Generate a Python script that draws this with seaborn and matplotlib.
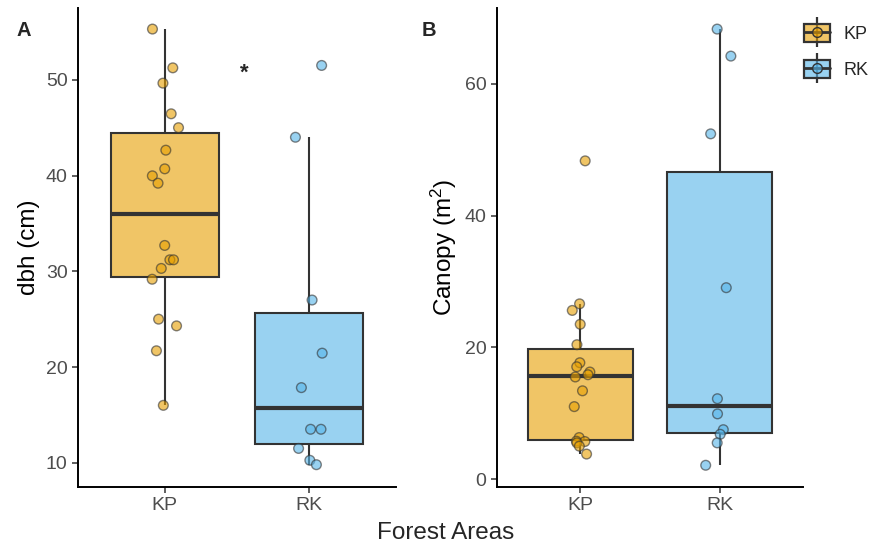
import numpy as np
import pandas as pd
import seaborn as sns
import matplotlib.pyplot as plt
from matplotlib.patches import Patch
from matplotlib.lines import Line2D
from matplotlib.legend_handler import HandlerTuple
from matplotlib.colors import to_rgba

# Data
areas = ["KP", "RK"]
dbh_kp = [55.3, 51.25, 49.65, 46.45, 45.0, 42.65, 40.7, 39.97, 39.2, 32.7,
          31.2, 31.2, 30.3, 29.17, 25.0, 24.3, 21.7, 16.0]
dbh_rk = [51.5, 44.0, 27.0, 21.45, 17.85, 13.5, 13.5, 11.5, 10.26, 9.8]
canopy_kp = [48.3, 26.6, 25.6, 23.5, 20.4, 17.66, 17.05, 16.25, 15.84, 15.5,
             13.4, 11.0, 6.3, 5.75, 5.7, 5.5, 5.0, 3.8]
canopy_rk = [68.3, 64.2, 52.4, 29.05, 12.2, 9.9, 7.5, 6.8, 5.5, 2.1]

palette = {"KP": "#E69F00", "RK": "#56B4E9"}

df_dbh = pd.DataFrame({"area": ["KP"] * len(dbh_kp) + ["RK"] * len(dbh_rk),
                       "value": dbh_kp + dbh_rk})
df_can = pd.DataFrame({"area": ["KP"] * len(canopy_kp) + ["RK"] * len(canopy_rk),
                       "value": canopy_kp + canopy_rk})

sns.set_style("ticks")
plt.rcParams['font.family'] = ['Liberation Sans', 'DejaVu Sans']
plt.rcParams['mathtext.default'] = 'regular'
np.random.seed(7)

fig = plt.figure(figsize=(8.7, 5.48), dpi=100)
ax1 = fig.add_axes([0.0897, 0.1113, 0.3653, 0.8741])
ax2 = fig.add_axes([0.5713, 0.1113, 0.3517, 0.8741])


def panel(ax, df, ylabel, ylim, yticks):
    sns.boxplot(data=df, x="area", y="value", hue="area", palette=palette,
                order=areas, saturation=1, width=0.75, showfliers=False,
                showcaps=False, linecolor="#333333", linewidth=1.5,
                medianprops={"linewidth": 3}, legend=False, ax=ax)
    for p in ax.patches:
        p.set_facecolor(to_rgba(p.get_facecolor(), 0.6))
    sns.stripplot(data=df, x="area", y="value", hue="area", palette=palette,
                  order=areas, jitter=0.1, size=7, alpha=0.6,
                  edgecolor="#333333", linewidth=1.0, legend=False, ax=ax, zorder=5)
    ax.set_xlim(-0.6, 1.6)
    ax.set_ylim(*ylim)
    ax.set_yticks(yticks)
    ax.set_xlabel("")
    ax.set_ylabel(ylabel, fontsize=17.5, color="black")
    sns.despine(ax=ax)
    for s in ["left", "bottom"]:
        ax.spines[s].set_linewidth(1.4)
        ax.spines[s].set_color("black")
    ax.tick_params(axis="both", labelsize=14, labelcolor="#4D4D4D",
                   color="#333333", length=4, width=1.1)


panel(ax1, df_dbh, "dbh (cm)", (7.47, 57.5), [10, 20, 30, 40, 50])
panel(ax2, df_can, "Canopy (m$^{2}$)", (-1.2, 71.5), [0, 20, 40, 60])

ax1.text(0.55, 50.7, "*", fontsize=16, fontweight="bold", ha="center", va="center")
fig.text(17 / 870, 1 - 30 / 548, "A", fontsize=14.5, fontweight="bold", va="center")
fig.text(422 / 870, 1 - 30 / 548, "B", fontsize=14.5, fontweight="bold", va="center")
fig.text(446 / 870, 1 - 533 / 548, "Forest Areas", fontsize=17.5, ha="center", va="center")

handles = []
for a in areas:
    box = Patch(facecolor=to_rgba(palette[a], 0.6), edgecolor="#333333", linewidth=1.6)
    whisk = Line2D([0], [0], color="#333333", marker="|", markersize=21,
                   markeredgewidth=1.6, linestyle="None")
    mid = Line2D([0], [0], color="#333333", linewidth=2, marker="o", markersize=7,
                 markerfacecolor=to_rgba(palette[a], 0.6), markeredgecolor="#333333")
    handles.append((whisk, box, mid))

fig.legend(handles, areas, handler_map={tuple: HandlerTuple(ndivide=1, pad=0)},
           loc="upper left", bbox_to_anchor=(788 / 870, 1 - 8 / 548),
           frameon=False, fontsize=13, handlelength=1.45, handleheight=1.1,
           labelspacing=0.95, handletextpad=0.75)

fig.savefig("out.png", dpi=100)
